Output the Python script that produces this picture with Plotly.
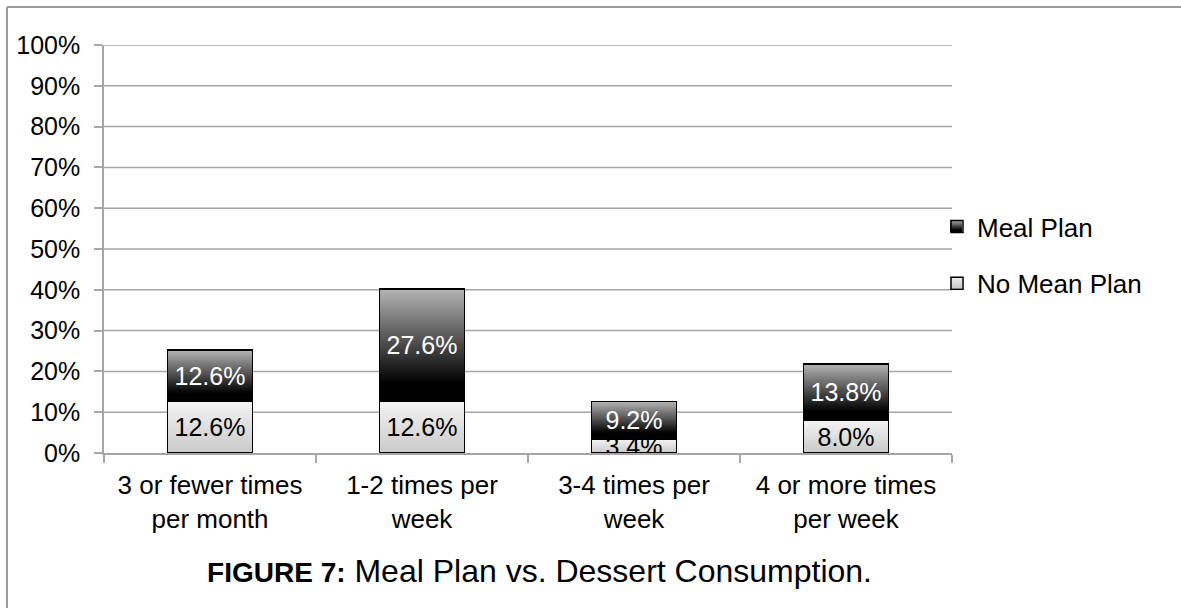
import base64
import plotly.graph_objects as go

# ---------------- data ----------------
categories = ["3 or fewer times<br>per month", "1-2 times per<br>week",
              "3-4 times per<br>week", "4 or more times<br>per week"]
no_meal_plan = [12.6, 12.6, 3.4, 8.0]
meal_plan = [12.6, 27.6, 9.2, 13.8]
series_names = ["No Mean Plan", "Meal Plan"]
y_ticks = [0, 10, 20, 30, 40, 50, 60, 70, 80, 90, 100]
y_tick_labels = ["0%", "10%", "20%", "30%", "40%", "50%", "60%", "70%", "80%", "90%", "100%"]
title_bold = "FIGURE 7:"
title_rest = " Meal Plan vs. Dessert Consumption."

# ---------------- style ----------------
FONT = "Liberation Sans, Arial, sans-serif"
GRID = "#a6a6a6"
W_FIG, H_FIG = 1181, 608
ML, MR, MT, MB = 104, 229, 45, 155
PW = W_FIG - ML - MR
PH = H_FIG - MT - MB
BAR_W = 0.4


def px2x(px):
    return (px - ML) / PW


def py2y(py):
    return (H_FIG - MB - py) / PH


def grad_uri(stops):
    s = ('<svg xmlns="http://www.w3.org/2000/svg" width="10" height="100" '
         'viewBox="0 0 10 100" preserveAspectRatio="none"><defs>'
         '<linearGradient id="g" x1="0" y1="0" x2="0" y2="1">'
         + "".join(f'<stop offset="{o}" stop-color="{c}"/>' for o, c in stops)
         + '</linearGradient></defs><rect width="10" height="100" fill="url(#g)"/></svg>')
    return "data:image/svg+xml;base64," + base64.b64encode(s.encode()).decode()


dark_grad = grad_uri([(0, "#b4b4b4"), (0.84, "#000000"), (1, "#000000")])
light_grad = grad_uri([(0, "#f4f4f4"), (1, "#c9c9c9")])

fig = go.Figure()
TRANSPARENT = "rgba(0,0,0,0)"
for name, vals, tcol, grp, rank in [(series_names[0], no_meal_plan, "black", "a", 2),
                                    (series_names[1], meal_plan, "white", "b", 1)]:
    fig.add_trace(go.Bar(
        x=categories, y=vals, name=name, legendgroup=grp, legendrank=rank,
        marker=dict(color=TRANSPARENT, line=dict(color="black", width=1.5)),
        texttemplate="%{y:.1f}%", textposition="inside", insidetextanchor="middle",
        textangle=0, constraintext="none",
        textfont=dict(family=FONT, size=25, color=tcol),
        hoverinfo="skip",
    ))

# gradient fills drawn under the (transparent) bars, positioned in data coordinates
images = []
for i in range(len(categories)):
    base = 0.0
    for vals, uri in [(no_meal_plan, light_grad), (meal_plan, dark_grad)]:
        top = base + vals[i]
        images.append(dict(source=uri, xref="x", yref="y", x=i - BAR_W / 2, y=top,
                           sizex=BAR_W, sizey=vals[i], xanchor="left", yanchor="top",
                           sizing="stretch", layer="below"))
        base = top

# legend icon gradients
ICON = 12
for cy, uri in [(226, dark_grad), (282, light_grad)]:
    images.append(dict(source=uri, xref="paper", yref="paper",
                       x=px2x(950), y=py2y(cy - ICON / 2), sizex=ICON / PW, sizey=ICON / PH,
                       xanchor="left", yanchor="top", sizing="stretch", layer="above"))

shapes = []
for v in y_ticks[1:]:
    shapes.append(dict(type="line", xref="x domain", yref="y", x0=0, x1=1, y0=v, y1=v,
                       line=dict(color=GRID, width=1.5), layer="below"))
# outer frame (top and left edges)
shapes.append(dict(type="line", xref="paper", yref="paper", x0=px2x(7), x1=px2x(1181),
                   y0=py2y(7), y1=py2y(7), line=dict(color="#9a9a9a", width=2)))
shapes.append(dict(type="line", xref="paper", yref="paper", x0=px2x(7), x1=px2x(7),
                   y0=py2y(7), y1=py2y(608), line=dict(color="#9a9a9a", width=2)))

fig.update_layout(
    width=W_FIG, height=H_FIG,
    margin=dict(l=ML, r=MR, t=MT, b=MB, autoexpand=False),
    paper_bgcolor="white", plot_bgcolor="white",
    barmode="stack", bargap=1 - BAR_W,
    font=dict(family=FONT, size=25, color="black"),
    images=images, shapes=shapes,
    showlegend=True,
    legend=dict(x=px2x(937), xanchor="left", y=py2y(203), yanchor="top",
                traceorder="grouped", tracegroupgap=20,
                bgcolor=TRANSPARENT, font=dict(family=FONT, size=26, color="black")),
    title=dict(text=f"<b><span style=\"font-size:28px\">{title_bold}</span></b>{title_rest}",
               x=px2x(872), xref="paper", xanchor="right",
               y=1 - 571 / H_FIG, yref="container", yanchor="middle",
               font=dict(family=FONT, size=32, color="black")),
    xaxis=dict(type="category", showgrid=False, showline=True, linecolor=GRID, linewidth=1.5,
               ticks="outside", tickson="boundaries", ticklen=8, tickcolor=GRID, tickwidth=1.5,
               ticklabelstandoff=8,
               tickfont=dict(family=FONT, size=26, color="black")),
    yaxis=dict(range=[0, 100], tickmode="array", tickvals=y_ticks, ticktext=y_tick_labels,
               showgrid=False, zeroline=False, showline=True, linecolor=GRID, linewidth=1.5,
               ticks="outside", ticklen=8, tickcolor=GRID, tickwidth=1.5,
               ticklabelstandoff=9,
               tickfont=dict(family=FONT, size=25, color="black")),
)

fig.write_html("out.html", config={"displayModeBar": False},
               post_script="document.body.style.margin='0px';")
